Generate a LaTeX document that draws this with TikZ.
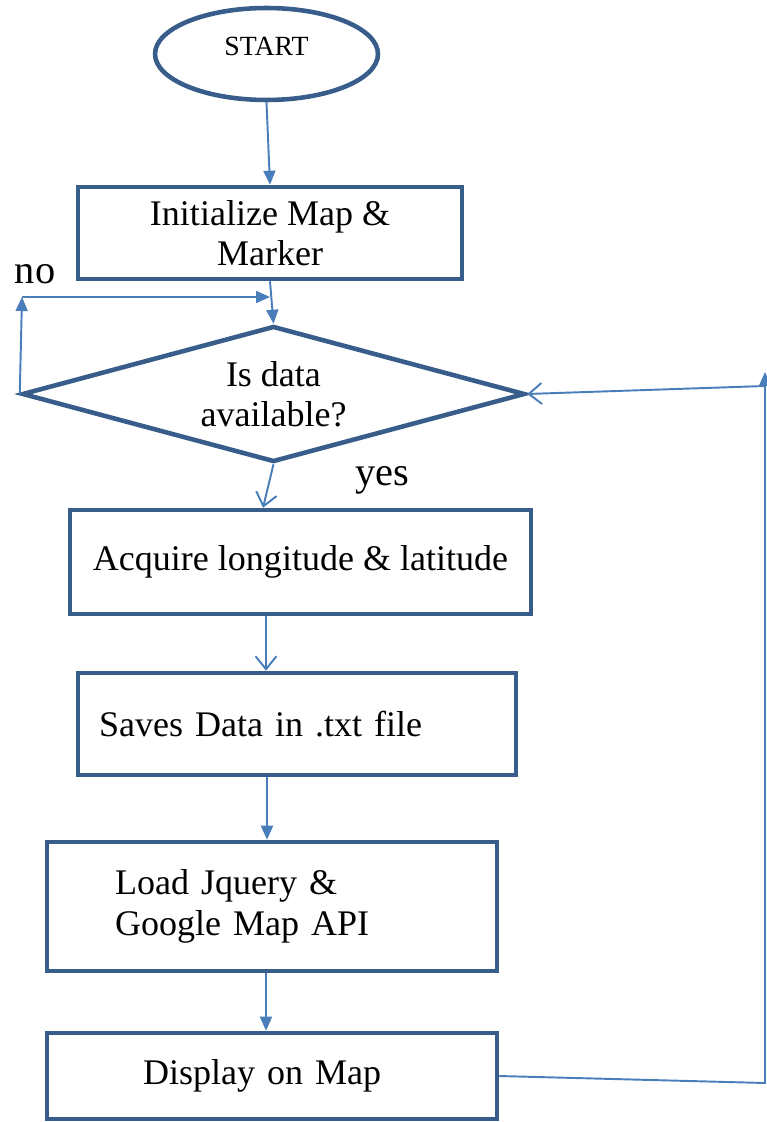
\documentclass[tikz,border=0pt]{standalone}
\usepackage{fontspec}
\setmainfont{Liberation Serif}
\usepackage{xcolor}
\usetikzlibrary{shapes.geometric,arrows.meta}
\definecolor{fborder}{HTML}{385D8A}
\definecolor{fline}{HTML}{4A7EBB}

\begin{document}
\begin{tikzpicture}[x=0.02cm, y=-0.02cm,
    font=\fontsize{20.5pt}{23pt}\selectfont,
    procbox/.style={draw=fborder, line width=2.6pt, rectangle, align=center, inner sep=0pt},
    termnode/.style={draw=fborder, line width=2.6pt, ellipse, inner sep=0pt,
                     minimum width=4.46cm, minimum height=1.84cm,
                     font=\fontsize{15.8pt}{18pt}\selectfont},
    decnode/.style={draw=fborder, line width=2.6pt, diamond, aspect=3.7, inner sep=0pt,
                    minimum width=10.06cm, minimum height=2.72cm, align=center},
    flowarr/.style={draw=fline, line width=1.1pt, -{Triangle[length=0.28cm, width=0.24cm]}},
    openarr/.style={draw=fline, line width=1.1pt, -{Straight Barb[length=0.26cm, width=0.42cm]}},
    lbl/.style={font=\fontsize{23pt}{26pt}\selectfont}]

    \useasboundingbox (0,0) rectangle (767,1122);

    % nodes
    \node[termnode] (start) at (266.5,54) {\raisebox{0.3cm}{START}};
    \node[procbox, minimum width=7.68cm, minimum height=1.84cm] (init) at (270,233)
      {Initialize Map \&\\Marker};
    \node[decnode] (dec) at (273.5,394) {Is data\\available?};
    \node[procbox, minimum width=9.22cm, minimum height=2.08cm] (acq) at (300.5,562)
      {Acquire longitude \& latitude};
    \node[procbox, minimum width=8.76cm, minimum height=2.04cm, align=left,
          inner xsep=0.42cm, text width=7.92cm] (save) at (297,724)
      {Saves Data in .txt file};
    \node[procbox, minimum width=9.0cm, minimum height=2.58cm, align=left,
          inner xsep=1.36cm, text width=6.28cm] (load) at (272,906.5)
      {Load Jquery \&\\Google Map API};
    \node[procbox, minimum width=9.0cm, minimum height=1.72cm, align=left,
          inner xsep=1.92cm, text width=5.16cm] (disp) at (272,1076)
      {Display on Map};

    % labels
    \node[lbl] (nolbl) at (35,274) {no};
    \node[lbl] (yeslbl) at (382,480) {yes};

    % helper points
    \coordinate (nocorner) at (22,297);
    \coordinate (nojoin) at (270,297);
    \coordinate (rbot) at (765,1083);
    \coordinate (rtop) at (765,372);
    \coordinate (rjoin) at (765,386);

    % connectors
    \draw[flowarr] (start.south) -- (init.north);
    \draw[flowarr] (init.south) -- (dec.north);
    \draw[flowarr] (dec.west) -- (nocorner);
    \draw[flowarr] (nocorner) -- (nojoin);
    \draw[openarr] (dec.south) -- ([xshift=-0.75cm]acq.north);
    \draw[openarr] ([xshift=-0.69cm]acq.south) -- ([xshift=-0.69cm]acq.south |- save.north);
    \draw[flowarr] ([xshift=-0.6cm]save.south) -- ([xshift=-0.6cm]save.south |- load.north);
    \draw[flowarr] ([xshift=-0.12cm]load.south) -- ([xshift=-0.12cm]disp.north);
    \draw[flowarr] (disp.east) -- (rbot) -- (rtop);
    \draw[openarr] (rjoin) -- (dec.east);
\end{tikzpicture}
\end{document}
